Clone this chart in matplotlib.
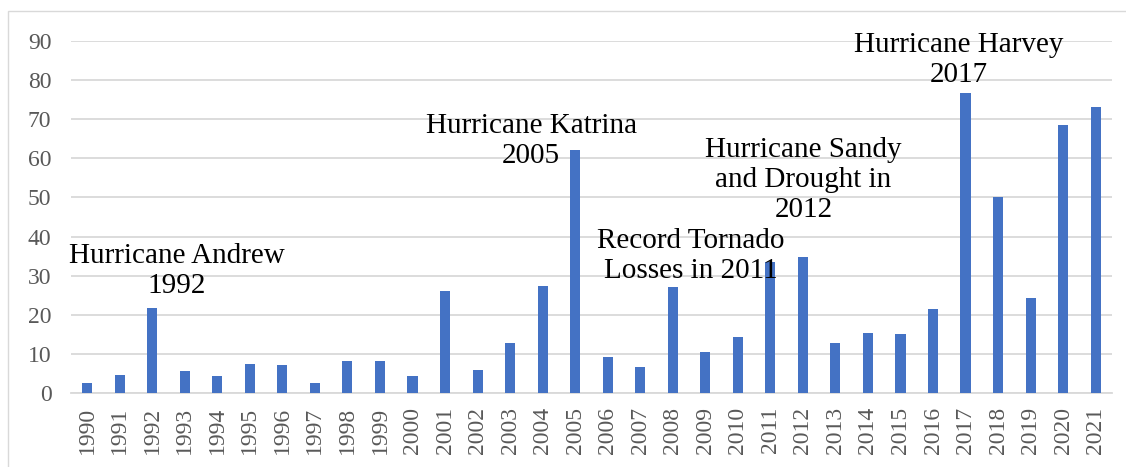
import numpy as np
import matplotlib.pyplot as plt
from matplotlib.patches import Rectangle

# Billion-dollar disaster losses per year
years = [str(y) for y in range(1990, 2022)]
losses = [2.7, 4.7, 21.8, 5.6, 4.5, 7.4, 7.1, 2.5, 8.2, 8.2,
          4.5, 26.2, 5.9, 12.7, 27.4, 62.2, 9.2, 6.6, 27.0, 10.5,
          14.3, 33.6, 34.8, 12.8, 15.3, 15.1, 21.6, 76.6, 50.1, 24.4,
          68.4, 73.1]

# Event labels: (text, x position in category units, y of last baseline)
events = [
    ("Hurricane Andrew\n1992", 2.76, 25.6),
    ("Hurricane Katrina\n2005", 13.65, 58.8),
    ("Record Tornado\nLosses in 2011", 18.55, 29.4),
    ("Hurricane Sandy\nand Drought in\n2012", 22.02, 45.0),
    ("Hurricane Harvey\n2017", 26.79, 79.4),
]

plt.rcParams['font.family'] = ['Liberation Serif', 'DejaVu Serif']

fig = plt.figure(figsize=(11.26, 4.67), dpi=100)
ax = fig.add_axes([0.063, 0.158, 0.9245, 0.755])

x = np.arange(len(years))
ax.bar(x, losses, width=0.31, color='#4472C4', zorder=3)

ax.set_xlim(-0.5, len(years) - 0.5)
ax.set_ylim(0, 90)
ax.set_yticks(range(0, 91, 10))
ax.set_xticks(x)
ax.set_xticklabels(years, rotation=90)
ax.tick_params(axis='both', length=0, labelsize=17, labelcolor='#595959')
ax.tick_params(axis='x', pad=10)
ax.tick_params(axis='y', pad=14)

ax.grid(axis='y', color='#D9D9D9', linewidth=1.3, zorder=0)
for side in ['top', 'right', 'left']:
    ax.spines[side].set_visible(False)
ax.spines['bottom'].set_color('#D9D9D9')
ax.spines['bottom'].set_linewidth(1.3)

for text, tx, ty in events:
    ax.text(tx, ty, text, ha='center', va='baseline', fontsize=21,
            color='black', multialignment='center', zorder=4)

# light frame around the chart area
fig.patches.append(Rectangle((8 / 1126, -0.05), 1.2, 1 - 11 / 467 + 0.05,
                             transform=fig.transFigure, fill=False,
                             edgecolor='#D9D9D9', linewidth=1))

fig.savefig('out.png', dpi=100)
